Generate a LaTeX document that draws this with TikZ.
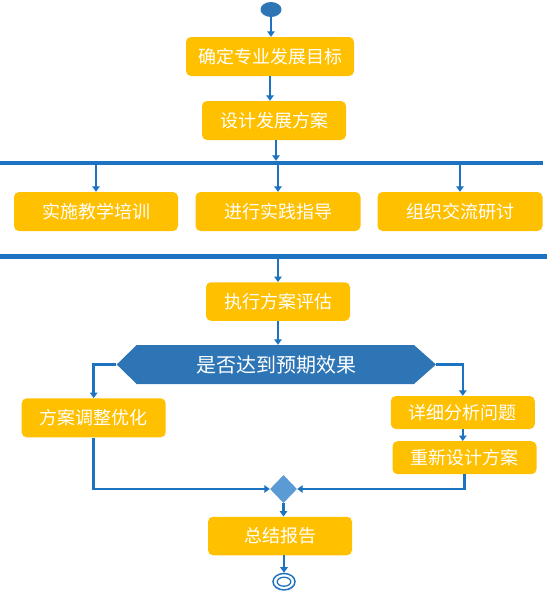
\documentclass[tikz,border=0pt]{standalone}
\usepackage{fontspec}
\newfontfamily\cjk{Noto Sans CJK SC}
\usepackage{tikz}
\usetikzlibrary{calc,shapes.geometric,arrows.meta}
\definecolor{boxyellow}{RGB}{255,192,0}
\definecolor{lineblue}{RGB}{30,115,192}
\definecolor{hexblue}{RGB}{46,117,182}
\definecolor{diablue}{RGB}{91,155,213}

\begin{document}
\begin{tikzpicture}[x=1pt,y=-1pt,
    box/.style={fill=boxyellow,rounded corners=5pt,text=white,inner sep=0pt,
      font=\cjk\fontsize{18pt}{20pt}\selectfont,minimum width=144pt,minimum height=39pt},
    flow/.style={draw=lineblue,line width=2.6pt,-{Triangle[width=7.5pt,length=5.5pt]}},
    bar/.style={draw=lineblue,line width=4.5pt}]
    \useasboundingbox (0,0) rectangle (550,592);
    \pgfmathsetmacro{\barA}{163}
    \pgfmathsetmacro{\barB}{256.5}
    \node[ellipse,fill=hexblue,inner sep=0pt,minimum width=21pt,minimum height=15pt] (S) at (271,9.5) {};
    \node[box,minimum width=168pt] (G) at (270,56.5) {确定专业发展目标};
    \node[box] (P) at (274,120.5) {设计发展方案};
    \draw[flow] (S) -- (S |- G.north);
    \draw[flow] (G.south) -- (G.south |- P.north);
    % fork bar
    \coordinate (B1) at (276,\barA-2.2);
    \draw[bar] (0,\barA) -- (543,\barA);
    \draw[flow] (P.south -| B1) -- (B1);
    \node[box,minimum width=164pt] (T1) at (96,211.5) {实施教学培训};
    \node[box,minimum width=165pt] (T2) at (278,211.5) {进行实践指导};
    \node[box,minimum width=165pt] (T3) at (460,211.5) {组织交流研讨};
    \foreach \t in {T1,T2,T3}
      \draw[flow] (\t.north |- 0,\barA) -- (\t.north);
    % join bar
    \draw[bar] (0,\barB) -- (547,\barB);
    \node[box,minimum height=38.5pt] (V) at (278,301.5) {执行方案评估};
    \draw[flow] (V.north |- 0,\barB) -- (V.north);
    \fill[hexblue] (116.7,364.5) -- (136.7,345) -- (414,345) -- (436,364.5) -- (414,384) -- (136.7,384) -- cycle;
    \node[inner sep=0pt,minimum width=319.3pt,minimum height=39pt,text=white,
      font=\cjk\fontsize{20pt}{22pt}\selectfont] (Q) at (276.3,364.5) {是否达到预期效果};
    \draw[flow] (V.south) -- (V.south |- Q.north);
    \node[box] (O) at (93.7,417.8) {方案调整优化};
    \node[box,minimum height=33pt] (A) at (462.8,412.5) {详细分析问题};
    \node[box,minimum height=33pt] (R) at (464.5,457.7) {重新设计方案};
    \draw[flow] (Q.west) -| (O.north);
    \draw[flow] (Q.east) -| (A.north);
    \draw[flow] (A.south) -- (A.south |- R.north);
    \node[diamond,fill=diablue,inner sep=0pt,minimum width=27pt,minimum height=28pt] (M) at (283.5,489) {};
    \draw[flow] (O.south) |- (M.west);
    \draw[flow] (R.south) |- (M.east);
    \node[box,minimum height=38.5pt] (Z) at (280,536) {总结报告};
    \draw[flow] (M.south) -- (M.south |- Z.north);
    \node[ellipse,draw=lineblue,line width=1.5pt,fill=white,inner sep=0pt,minimum width=22pt,minimum height=16.5pt] (F) at (284,581.7) {};
    \draw[lineblue,line width=1.3pt] (F) ellipse [x radius=6.8, y radius=4.5];
    \draw[flow] (Z.south -| F) -- (F.north);
\end{tikzpicture}
\end{document}
